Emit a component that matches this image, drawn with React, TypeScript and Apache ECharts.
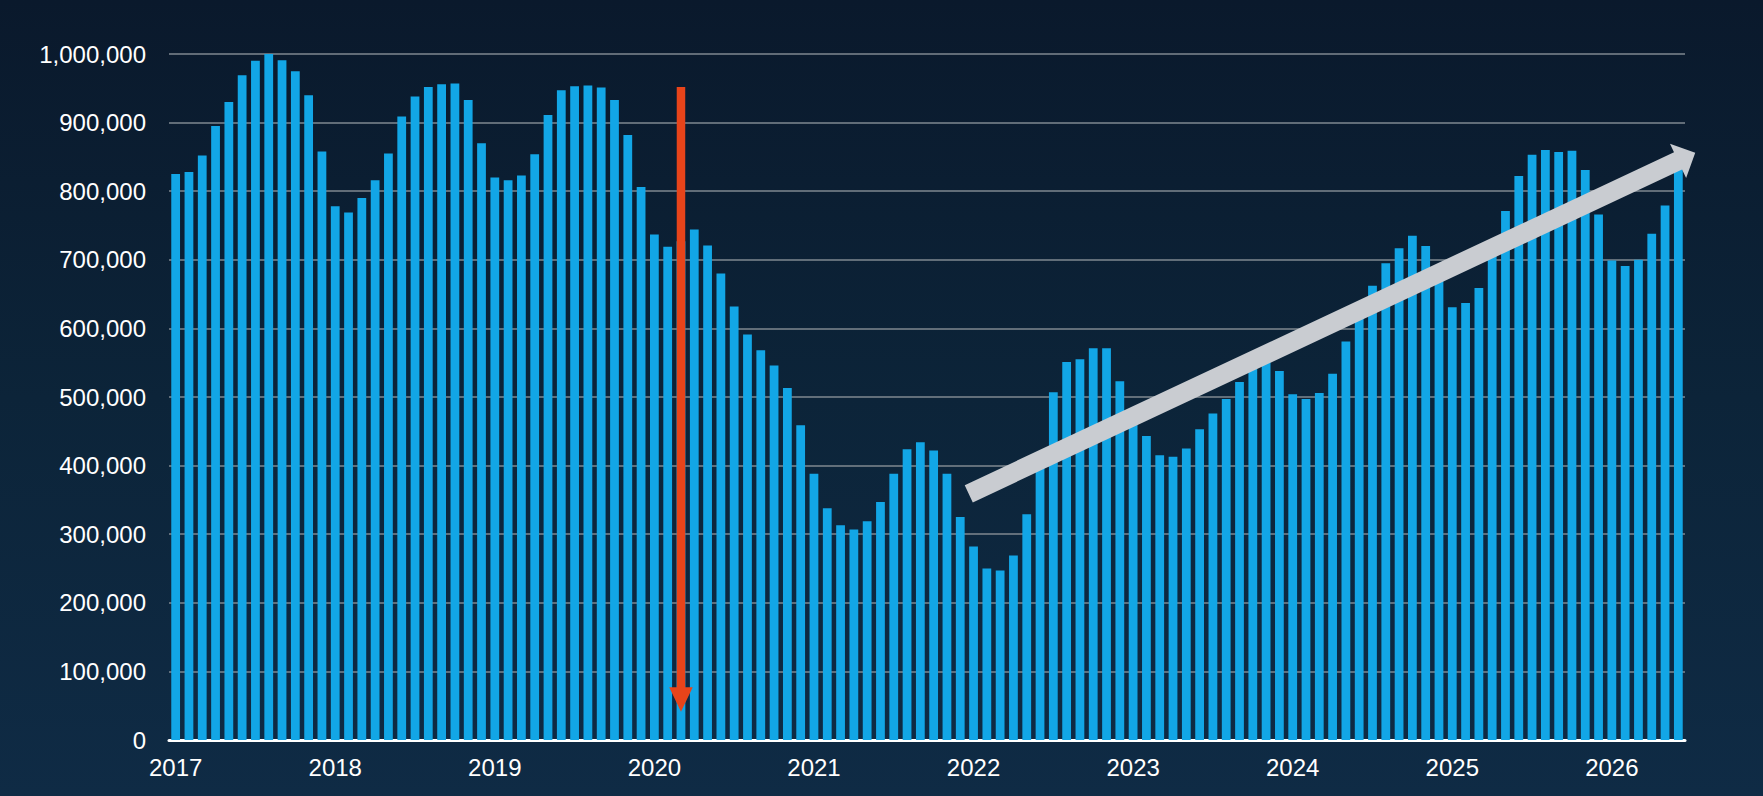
import React, { useEffect, useRef } from "react";
import * as echarts from "echarts";

// ---- Data (monthly) ----
const years = ["2017", "2018", "2019", "2020", "2021", "2022", "2023", "2024", "2025", "2026"];
const months = ["01", "02", "03", "04", "05", "06", "07", "08", "09", "10", "11", "12"];

const v2017 = [825000, 828000, 852000, 895000, 930000, 969000, 990000, 1000000, 991000, 975000, 940000, 858000];
const v2018 = [778000, 769000, 790000, 816000, 855000, 909000, 938000, 952000, 956000, 957000, 933000, 870000];
const v2019 = [820000, 816000, 823000, 854000, 911000, 947000, 953000, 954000, 951000, 933000, 882000, 806000];
const v2020 = [737000, 719000, 727000, 744000, 721000, 680000, 632000, 591000, 568000, 546000, 513000, 459000];
const v2021 = [388000, 338000, 313000, 307000, 319000, 347000, 388000, 424000, 434000, 422000, 388000, 325000];
const v2022 = [282000, 250000, 247000, 269000, 329000, 405000, 507000, 551000, 555000, 571000, 571000, 523000];
const v2023 = [470000, 443000, 415000, 413000, 425000, 453000, 476000, 497000, 522000, 546000, 555000, 538000];
const v2024 = [504000, 497000, 506000, 534000, 581000, 625000, 662000, 695000, 717000, 735000, 720000, 680000];
const v2025 = [631000, 637000, 659000, 712000, 771000, 822000, 853000, 860000, 857000, 859000, 831000, 766000];
const v2026 = [699000, 691000, 700000, 738000, 779000, 835000];

const yearValues = [v2017, v2018, v2019, v2020, v2021, v2022, v2023, v2024, v2025, v2026];

const yMin = 0;
const yMax = 1000000;
const yStep = 100000;

// Annotation anchors in data terms (category index, value)
const redArrowAt = { index: 38, from: 952000, to: 41000 };
const whiteArrowFrom = { index: 59.64, value: 358900 };
const whiteArrowTo = { index: 114.27, value: 856000 };

const categories: string[] = [];
const values: number[] = [];
yearValues.forEach((arr, yi) => {
  arr.forEach((v, mi) => {
    categories.push(years[yi] + "-" + months[mi]);
    values.push(v);
  });
});

const FONT = "'Liberation Sans', Arial, Helvetica, sans-serif";

export default function App() {
  const ref = useRef<HTMLDivElement>(null);

  useEffect(() => {
    if (!ref.current) return;
    const chart = echarts.init(ref.current, undefined, { renderer: "svg" });
    chart.setOption({
      animation: false,
      backgroundColor: {
        type: "linear",
        x: 0,
        y: 0,
        x2: 0,
        y2: 1,
        colorStops: [
          { offset: 0, color: "#0a192c" },
          { offset: 0.5, color: "#0c2439" },
          { offset: 1, color: "#0f2b45" },
        ],
      },
      grid: { left: 169, right: 78, top: 54, bottom: 56 },
      xAxis: {
        type: "category",
        data: categories,
        boundaryGap: true,
        axisLine: { show: true, lineStyle: { color: "#ffffff", width: 3 } },
        axisTick: { show: false },
        splitLine: { show: false },
        axisLabel: {
          interval: (index: number) => index % 12 === 0,
          formatter: (val: string) => val.slice(0, 4),
          color: "#ffffff",
          fontSize: 24,
          fontFamily: FONT,
          margin: 15,
        },
      },
      yAxis: {
        type: "value",
        min: yMin,
        max: yMax,
        interval: yStep,
        axisLine: { show: false },
        axisTick: { show: false },
        splitLine: { show: true, lineStyle: { color: "#7f8890", width: 1.5 } },
        axisLabel: {
          color: "#ffffff",
          fontSize: 24,
          fontFamily: FONT,
          margin: 23,
          formatter: (v: number) => v.toLocaleString("en-US"),
        },
      },
      series: [
        {
          type: "bar",
          data: values,
          barCategoryGap: "34%",
          itemStyle: { color: "#12a6e6" },
          z: 2,
        },
      ],
    });

    const xPix = (idx: number) => {
      const p0 = chart.convertToPixel({ xAxisIndex: 0 }, 0) as number;
      const p1 = chart.convertToPixel({ xAxisIndex: 0 }, 1) as number;
      return p0 + idx * (p1 - p0);
    };
    const yPix = (v: number) => chart.convertToPixel({ yAxisIndex: 0 }, v) as number;

    // Red arrow (vertical, pointing down)
    const rx = xPix(redArrowAt.index);
    const rTop = yPix(redArrowAt.from);
    const rTip = yPix(redArrowAt.to);
    const rShaftW = 8.5;
    const rHeadW = 23.5;
    const rHeadL = 24.5;
    const rHeadTop = rTip - rHeadL;
    const redPoints = [
      [rx - rShaftW / 2, rTop],
      [rx + rShaftW / 2, rTop],
      [rx + rShaftW / 2, rHeadTop],
      [rx + rHeadW / 2, rHeadTop],
      [rx, rTip],
      [rx - rHeadW / 2, rHeadTop],
      [rx - rShaftW / 2, rHeadTop],
    ];

    // White arrow (diagonal)
    const sx = xPix(whiteArrowFrom.index);
    const sy = yPix(whiteArrowFrom.value);
    const tx = xPix(whiteArrowTo.index);
    const ty = yPix(whiteArrowTo.value);
    const dx = tx - sx;
    const dy = ty - sy;
    const len = Math.sqrt(dx * dx + dy * dy);
    const ux = dx / len;
    const uy = dy / len;
    const nx = -uy;
    const ny = ux;
    const shaftW = 19;
    const headHalf = 19;
    const headL = 19;
    const bx = tx - ux * headL;
    const by = ty - uy * headL;
    const whitePoints = [
      [sx + nx * shaftW / 2, sy + ny * shaftW / 2],
      [bx + nx * shaftW / 2, by + ny * shaftW / 2],
      [bx + nx * headHalf, by + ny * headHalf],
      [tx, ty],
      [bx - nx * headHalf, by - ny * headHalf],
      [bx - nx * shaftW / 2, by - ny * shaftW / 2],
      [sx - nx * shaftW / 2, sy - ny * shaftW / 2],
    ];

    chart.setOption({
      graphic: [
        {
          type: "polygon",
          z: 100,
          shape: { points: redPoints },
          style: { fill: "#e8441a" },
        },
        {
          type: "polygon",
          z: 100,
          shape: { points: whitePoints },
          style: { fill: "#c9ccd1" },
        },
      ],
    });

    return () => chart.dispose();
  }, []);

  return (
    <div
      ref={ref}
      style={{ position: "absolute", left: 0, top: 0, width: 1763, height: 796 }}
    />
  );
}
